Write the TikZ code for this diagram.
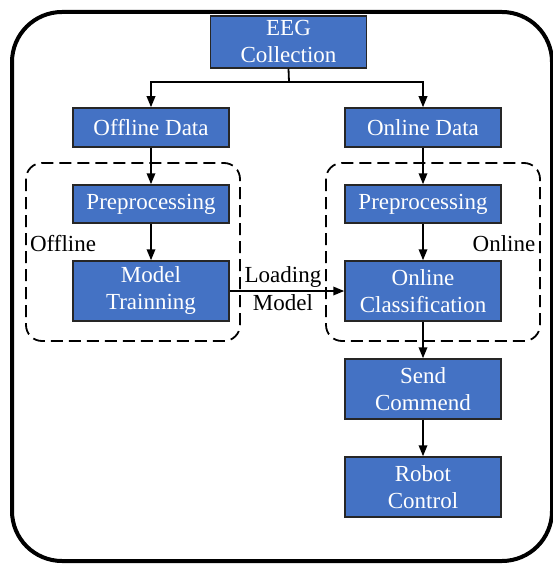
\documentclass[tikz,border=0pt]{standalone}
\usepackage{fontspec}
\setmainfont{Liberation Serif}
\usetikzlibrary{arrows.meta,positioning}
\definecolor{boxblue}{HTML}{4472C4}
\tikzset{
  stepbox/.style={draw=black!85, line width=1.5pt, fill=boxblue, text=white,
    minimum width=156pt, inner sep=0pt, align=center},
  flow/.style={line width=1.8pt, -{Triangle[length=11pt,width=8.5pt]}},
  groupbox/.style={line width=1.8pt, dash pattern=on 12pt off 6pt, rounded corners=16pt}
}
\begin{document}
\begin{tikzpicture}[x=1pt, y=-1pt, every node/.style={font=\fontsize{23}{27}\selectfont}]
    \useasboundingbox (0,0) rectangle (552,564);

    % Outer frame
    \draw[line width=4pt, rounded corners=50pt] (12,12) rectangle (552,561);

    % Source
    \node[stepbox, minimum height=52pt] (eeg) at (288.5,42) {EEG\\Collection};

    % Data branches
    \node[stepbox, minimum height=39pt] (offdata) at (151,127.5) {Offline Data};
    \node[stepbox, minimum height=39pt] (ondata) at (423,127.5) {Online Data};
    \coordinate (split) at (289,82);
    \draw[line width=1.8pt] (eeg.south) -- (split);
    \draw[flow] (split) -| (offdata.north);
    \draw[flow] (split) -| (ondata.north);

    % Offline group
    \draw[groupbox] (26,163) rectangle (240,341);
    \node[stepbox, minimum height=38pt] (offprep) at (151,204) {Preprocessing};
    \node[stepbox, minimum height=60pt] (train) at (151,291) {Model\\Trainning};
    \node (offlbl) at (63,244) {Offline};

    % Online group
    \draw[groupbox] (326,163) rectangle (540,341);
    \node[stepbox, minimum height=38pt] (onprep) at (423,204) {Preprocessing};
    \node[stepbox, minimum height=60pt] (classify) at (423,291) {Online\\Classification};
    \node (onlbl) at (504,244) {Online};

    % Output chain
    \node[stepbox, minimum height=60pt] (send) at (423,389) {Send\\Commend};
    \node[stepbox, minimum height=60pt] (robot) at (423,487) {Robot\\Control};

    % Connectors
    \draw[flow] (offdata) -- (offprep);
    \draw[flow] (offprep) -- (train);
    \draw[flow] (ondata) -- (onprep);
    \draw[flow] (onprep) -- (classify);
    \draw[flow] (train) -- (classify)
        node[midway, above, inner sep=3pt, xshift=-4pt] {Loading}
        node[midway, below, inner sep=3pt, xshift=-4pt] {Model};
    \draw[flow] (classify) -- (send);
    \draw[flow] (send) -- (robot);
\end{tikzpicture}
\end{document}
